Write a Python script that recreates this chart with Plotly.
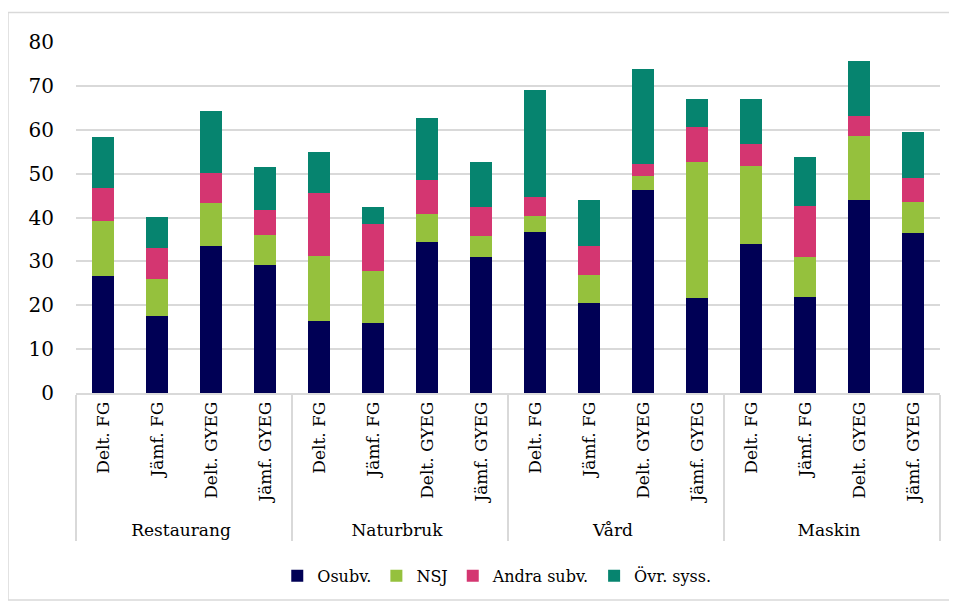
import plotly.graph_objects as go

groups = ["Restaurang", "Naturbruk", "Vård", "Maskin"]
subcats = ["Delt. FG", "Jämf. FG", "Delt. GYEG", "Jämf. GYEG"]

osubv = [26.6, 17.5, 33.6, 29.2, 16.5, 15.9, 34.5, 31.0, 36.8, 20.6, 46.2, 21.6, 33.9, 21.9, 44.0, 36.4]
nsj = [12.6, 8.5, 9.7, 6.7, 14.8, 11.9, 6.4, 4.8, 3.5, 6.2, 3.3, 31.1, 17.9, 9.2, 14.5, 7.1]
andra = [7.5, 7.1, 6.9, 5.9, 14.2, 10.8, 7.7, 6.6, 4.3, 6.8, 2.6, 8.0, 5.0, 11.6, 4.7, 5.6]
ovr = [11.6, 7.0, 14.0, 9.6, 9.4, 3.9, 14.0, 10.2, 24.4, 10.5, 21.7, 6.3, 10.1, 11.0, 12.5, 10.3]

series_names = ["Osubv.", "NSJ", "Andra subv.", "Övr. syss."]
series_vals = [osubv, nsj, andra, ovr]
colors = ["#000055", "#95c13d", "#d43671", "#06846f"]

x_outer = [g for g in groups for _ in subcats]
x_inner = [s for _ in groups for s in subcats]

fig = go.Figure()
for name, vals, col in zip(series_names, series_vals, colors):
    fig.add_trace(go.Bar(
        x=[x_outer, x_inner], y=vals, name=name,
        marker=dict(color=col, line=dict(width=0)),
    ))

font_family = "DejaVu Serif, Liberation Serif, serif"
# page has an 8px body margin, so the figure is drawn from (8, 8)
fig.update_layout(
    barmode="stack",
    bargap=0.59,
    width=949, height=594,
    margin=dict(l=68, r=17, t=34, b=209, autoexpand=False),
    paper_bgcolor="white", plot_bgcolor="white",
    font=dict(family=font_family, color="#000000", size=16),
    showlegend=True,
    legend=dict(orientation="h", x=0.487, xanchor="center", y=-0.521, yanchor="middle",
                font=dict(size=16), traceorder="normal", itemwidth=30),
    xaxis=dict(
        type="multicategory", tickangle=-90,
        showline=True, linecolor="#d9d9d9", linewidth=1.5,
        showdividers=True, dividercolor="#d9d9d9", dividerwidth=1.5,
        tickfont=dict(size=17), showgrid=False, ticks="",
    ),
    yaxis=dict(
        range=[0, 80], dtick=10, showgrid=True, gridcolor="#d9d9d9", gridwidth=1.5,
        zeroline=False, tickfont=dict(size=20), ticklabelstandoff=21, ticks="",
    ),
    shapes=[dict(type="rect", xref="paper", yref="paper",
                 x0=-0.0787, x1=1.017, y0=-0.59, y1=1.084,
                 line=dict(color="#d9d9d9", width=1.5), fillcolor="rgba(0,0,0,0)", layer="below")],
)

fig.write_html("out.html")
